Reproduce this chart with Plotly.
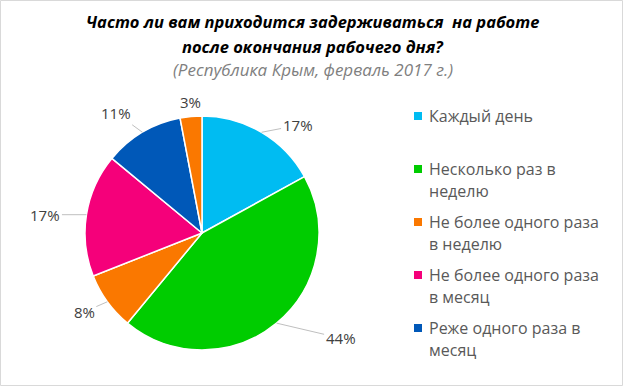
import math
import plotly.graph_objects as go

# ---- data ----
categories = ["Каждый день", "Несколько раз в<br>неделю", "Не более одного раза<br>в неделю",
              "Не более одного раза<br>в месяц", "Реже одного раза в<br>месяц", "Затрудняюсь ответить"]
values = [17, 44, 8, 17, 11, 3]
in_legend = [True, True, True, True, True, False]
colors = ["#00BCF2", "#00CC00", "#FA7800", "#F5007A", "#0058B8", "#FA7800"]
title_lines = ["Часто ли вам приходится задерживаться  на работе", "после окончания рабочего дня?"]
subtitle = "(Республика Крым, ферваль 2017 г.)"

# ---- layout constants (pixels) ----
W, H = 625, 386
cx, cy, R = 202, 233, 117
label_offsets = [(36, -7), (64, 15), (-23, 10), (-41, 0), (-26, -19), (0, -15)]

fig = go.Figure()
fig.add_trace(go.Pie(
    labels=[c.replace("<br>", " ") for c in categories],
    values=values,
    sort=False,
    direction="clockwise",
    rotation=0,
    marker=dict(colors=colors, line=dict(color="white", width=1.5)),
    textinfo="none",
    hoverinfo="label+percent",
    showlegend=False,
    domain=dict(x=[(cx - R) / W, (cx + R) / W], y=[1 - (cy + R) / H, 1 - (cy - R) / H]),
))

annotations = []
shapes = []

# data labels
total = sum(values)
cum = 0
for v, (dx, dy) in zip(values, label_offsets):
    mid = (cum + v / 2) / total
    cum += v
    th = 2 * math.pi * mid
    ex = cx + R * math.sin(th)
    ey = cy - R * math.cos(th)
    txt = f"{round(100 * v / total)}%"
    if math.hypot(dx, dy) > 20:
        annotations.append(dict(x=ex / W, y=1 - ey / H, xref="paper", yref="paper", text=txt,
                                showarrow=True, arrowhead=0, arrowwidth=1, arrowcolor="#BFBFBF",
                                ax=dx, ay=dy, standoff=0,
                                font=dict(family="Open Sans", size=15, color="#404040")))
    else:
        annotations.append(dict(x=(ex + dx) / W, y=1 - (ey + dy) / H, xref="paper", yref="paper",
                                text=txt, showarrow=False, xanchor="center", yanchor="middle",
                                font=dict(family="Open Sans", size=15, color="#404040")))

# titles
title_y = [22, 47]
for t, yy in zip(title_lines, title_y):
    annotations.append(dict(x=0.5, y=1 - yy / H, xref="paper", yref="paper", text=f"<b><i>{t}</i></b>",
                            showarrow=False, xanchor="center", yanchor="middle",
                            font=dict(family="Open Sans", size=16.5, color="#000000")))
annotations.append(dict(x=0.5, y=1 - 70 / H, xref="paper", yref="paper", text=f"<i>{subtitle}</i>",
                        showarrow=False, xanchor="center", yanchor="middle",
                        font=dict(family="Open Sans", size=17, color="#7F7F7F")))

# custom legend
leg_x_sq, leg_x_txt = 414, 427
leg_y0, leg_step, line_step = 116, 53, 21.5
k = 0
for cat, col, show in zip(categories, colors, in_legend):
    if not show:
        continue
    y0 = leg_y0 + k * leg_step
    shapes.append(dict(type="rect", xref="paper", yref="paper",
                       x0=leg_x_sq / W, x1=(leg_x_sq + 8) / W,
                       y0=1 - (y0 + 4) / H, y1=1 - (y0 - 4) / H,
                       fillcolor=col, line=dict(width=0)))
    for j, line in enumerate(cat.split("<br>")):
        annotations.append(dict(x=leg_x_txt / W, y=1 - (y0 + j * line_step) / H, xref="paper", yref="paper",
                                text=line, showarrow=False, xanchor="left", yanchor="middle",
                                font=dict(family="Open Sans", size=16, color="#595959")))
    k += 1

# outer border
shapes.append(dict(type="rect", xref="paper", yref="paper", x0=0.5 / W, x1=(W - 2.5) / W,
                   y0=0.5 / H, y1=1 - 0.5 / H, line=dict(color="#D9D9D9", width=1)))

fig.update_layout(width=W, height=H, margin=dict(l=0, r=0, t=0, b=0),
                  paper_bgcolor="white", plot_bgcolor="white",
                  annotations=annotations, shapes=shapes)

fig.write_html("out.html", config={"displayModeBar": False},
               post_script="document.body.style.margin='0';")
